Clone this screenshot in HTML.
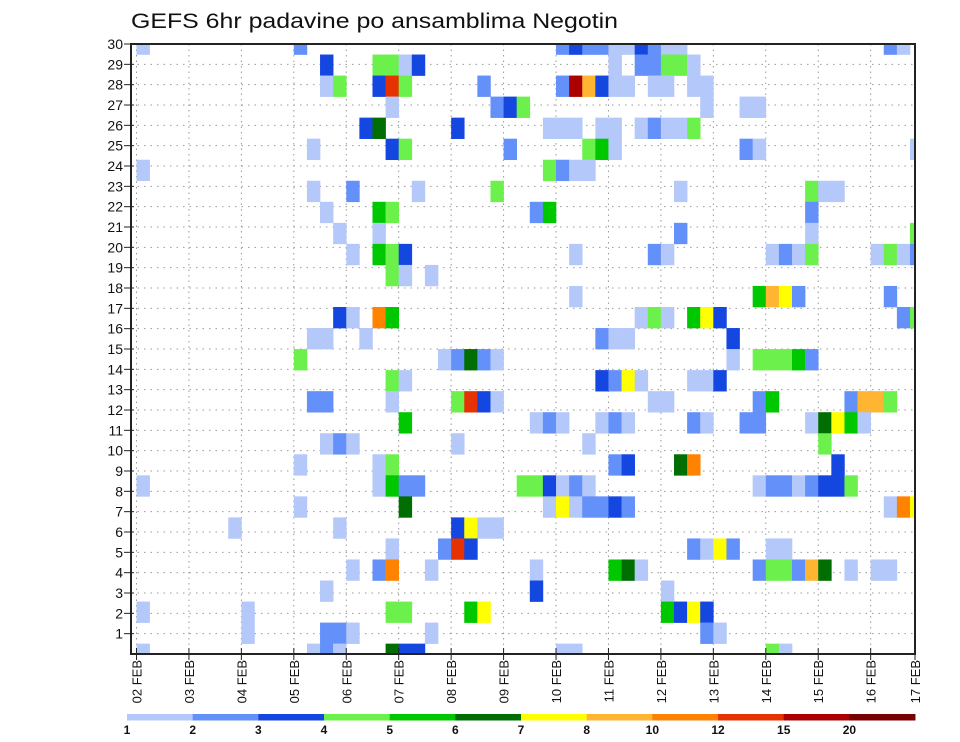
<!DOCTYPE html>
<html><head><meta charset="utf-8">
<style>
html,body{margin:0;padding:0;background:#fff;}
svg{display:block;font-family:"Liberation Sans","DejaVu Sans",sans-serif;}
</style></head>
<body>
<svg id="chart" width="960" height="742" viewBox="0 0 960 742" xmlns="http://www.w3.org/2000/svg">
  <text x="131" y="28" font-size="21" textLength="487" lengthAdjust="spacingAndGlyphs" fill="#111">GEFS 6hr padavine po ansamblima Negotin</text>
  <g id="grid"></g>
  <g id="cells"></g>
  <rect x="131" y="44" width="784" height="610" fill="none" stroke="#222" stroke-width="2"/>
  <g id="yaxis"></g>
  <g id="xaxis"></g>
  <g id="cbar"></g>
</svg>
<script>
// Member rows (top to bottom), 60 six-hour steps each. '.' = no precip, 1..9,a,b,c = colour class index
const members = [
"1...........2...................23221132" + "11...............21.",
"..............3...4413..............1.22" + "441.................",
"..............14..3a4.....2.....2b8311.1" + "1.11................",
"...................1.......234.........." + "...1..11............",
".................36.....3......111.11.12" + "114.................",
".............1.....34.......2.....451..." + "......21...........1",
"1..............................4211....." + "....................",
".............1..2....1.....4............" + ".1.........411......",
"..............1...54..........25........" + "...........2........",
"...............1..1....................." + ".2.........1.......4",
"................1.543............1.....2" + "1.......1214....1412",
"...................41.1................." + "....................",
".................................1......" + ".......5872......2..",
"...............31.95..................14" + "1.573.............24",
".............11..1.................211.." + ".....3..............",
"............4..........12621............" + ".....1.44452........",
"...................41..............3271." + "..113...............",
".............22....1....4a31...........1" + "1......25.....2884..",
"....................5.........121..121.." + "..21..22...16751....",
"..............121.......1.........1....." + "............4.......",
"............1.....14................23.." + ".69..........3......",
"1.................1522.......443121....." + ".......12212334.....",
"............1.......6..........1712232.." + ".................197",
".......1.......1........3711............" + "....................",
"...................1...2a3.............." + "..2172..11..........",
"................1.29..1.......1.....561." + ".......244286.1.11..",
"..............1...............3........." + "1...................",
"1.......1..........44....57............." + "5373................",
"........1.....221.....1................." + "...21...............",
"1............121...633..........11......" + "........41.........."
];
const levelKeys = ["1","2","3","4","5","6","7","8","9","a","b","c"];
const levelColors = ["#b4c8fa","#6490fa","#1446e0","#6cf04c","#00c800","#006e00","#ffff00","#ffb432","#ff8200","#e63200","#aa0000","#780000"];
const levelLabels = ["1","2","3","4","5","6","7","8","10","12","15","20"];
const yTicks = [1,2,3,4,5,6,7,8,9,10,11,12,13,14,15,16,17,18,19,20,21,22,23,24,25,26,27,28,29,30];
const dayLabels = ["02 FEB","03 FEB","04 FEB","05 FEB","06 FEB","07 FEB","08 FEB","09 FEB","10 FEB","11 FEB","12 FEB","13 FEB","14 FEB","15 FEB","16 FEB","17 FEB"];

const NS = "http://www.w3.org/2000/svg";
const PL = 131, PR = 915, PT = 44, PB = 654;
const X0 = 136.5, STEP = 13.11, DAY = 52.44;
const ROWH = 21.04;
function xStep(c){ return X0 + c*STEP; }
function xDay(d){ return Math.min(X0 + d*DAY, PR); }
function yLabel(v){ return PB - v*(PB-PT)/30; }
function yMember(r){ return PT + r*ROWH; }
function mk(tag, attrs, parent){
  const e = document.createElementNS(NS, tag);
  for (const k in attrs) e.setAttribute(k, attrs[k]);
  parent.appendChild(e); return e;
}

// grid
const grid = document.getElementById('grid');
yTicks.forEach(v => {
  if (v === 30) return;
  const l = mk('line', {x1:PL, x2:PR, y1:yLabel(v), y2:yLabel(v), stroke:'#999', 'stroke-width':1, 'stroke-dasharray':'1.5,5'}, grid);
  
  
});
dayLabels.forEach((d,i) => {
  const x = xDay(i);
  if (x >= PR) return;
  const l = mk('line', {x1:x, x2:x, y1:PT, y2:PB, stroke:'#999', 'stroke-width':1, 'stroke-dasharray':'1.5,4'}, grid);
  
  
});

// cells
const cells = document.getElementById('cells');
members.forEach((row, r) => {
  const yc = yMember(r);
  let y1 = Math.max(PT, yc - ROWH/2), y2 = Math.min(PB, yc + ROWH/2);
  for (let c = 0; c < row.length && c < 60; c++) {
    const k = levelKeys.indexOf(row[c]);
    if (k < 0) continue;
    let x1 = Math.max(PL, xStep(c)), x2 = Math.min(PR, xStep(c+1));
    if (x2 <= x1 || y2 <= y1) continue;
    const rc = mk('rect', {x:x1, y:y1, width:x2-x1+0.3, height:y2-y1+0.3, fill:levelColors[k]}, cells);
    
    
  }
});

// y axis
const ya = document.getElementById('yaxis');
yTicks.forEach(v => {
  const y = yLabel(v);
  const t = mk('line', {x1:PL-7, x2:PL+3, y1:y, y2:y, stroke:'#222', 'stroke-width':1}, ya);
  
  
  const tx = mk('text', {x:PL-8, y:y+5, 'font-size':14, 'text-anchor':'end', fill:'#111'}, ya);
  tx.textContent = v;
  
  
});

// x axis
const xa = document.getElementById('xaxis');
dayLabels.forEach((d,i) => {
  const x = xDay(i);
  const t = mk('line', {x1:x, x2:x, y1:PB-6, y2:PB+6, stroke:'#222', 'stroke-width':1}, xa);
  
  
  const tx = mk('text', {x:0, y:0, 'font-size':13, 'text-anchor':'end', fill:'#111', transform:'translate('+(x+5)+',660) rotate(-90)'}, xa);
  tx.textContent = d;
  
  
});

// colorbar
const cb = document.getElementById('cbar');
const CB0 = 127, CBW = 65.67;
levelColors.forEach((col,i) => {
  const r = mk('rect', {x:CB0+i*CBW, y:714, width:CBW+0.4, height:6.5, fill:col}, cb);
  
  
});
levelLabels.forEach((lab,i) => {
  const t = mk('text', {x:CB0+i*CBW, y:734, 'font-size':12, 'font-weight':'bold', 'text-anchor':'middle', fill:'#111'}, cb);
  t.textContent = lab;
  
  
});
</script>
</body></html>
